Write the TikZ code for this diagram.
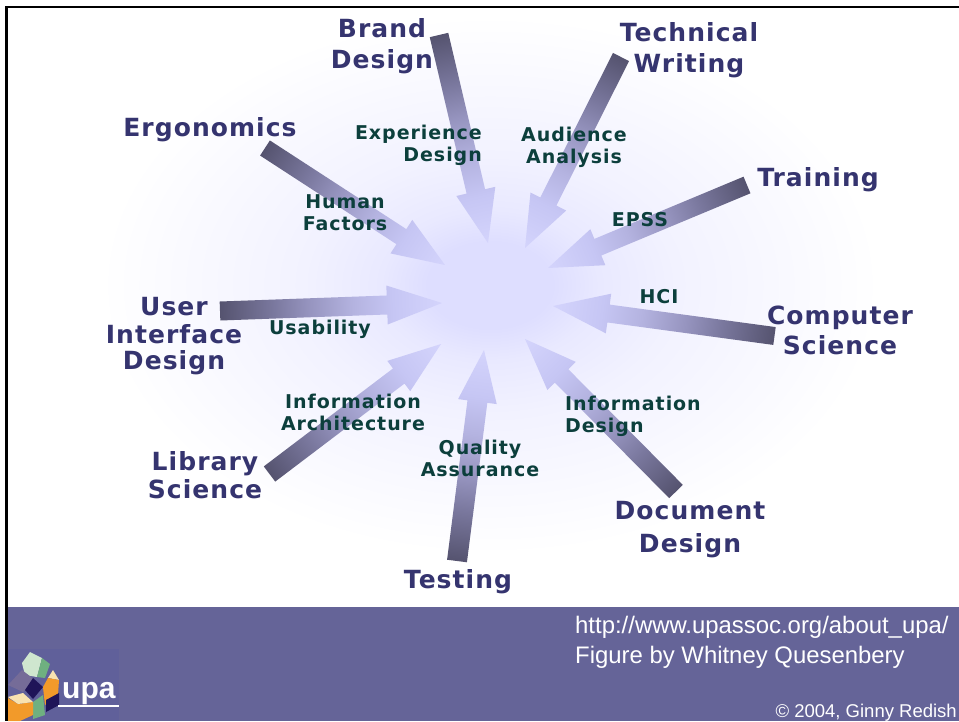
\documentclass[tikz,border=0pt]{standalone}
\usepackage{fontspec}
\setmainfont{Liberation Sans}
\newfontfamily\labfont[LetterSpace=4.2]{DejaVu Sans}
\newfontfamily\smallfont[LetterSpace=5]{DejaVu Sans}
\definecolor{bandc}{HTML}{656498}
\definecolor{logobg}{HTML}{60609A}
\definecolor{bigc}{HTML}{35346F}
\definecolor{smallc}{HTML}{0C3F3C}
\definecolor{arA}{HTML}{55536F}
\definecolor{arB}{HTML}{7A789E}
\definecolor{arC}{HTML}{9694BF}
\definecolor{arD}{HTML}{B4B3E0}
\definecolor{arF}{HTML}{C6C6F4}
\definecolor{arE}{HTML}{D4D4FC}
\definecolor{blA}{HTML}{DEDEFF}
\definecolor{blB}{HTML}{E9E9FF}
\definecolor{blC}{HTML}{F2F2FF}
\definecolor{blD}{HTML}{FAFAFF}
\definecolor{cubeLG}{HTML}{CFE6CF}
\definecolor{cubeG}{HTML}{6FB080}
\definecolor{cubeP}{HTML}{756C98}
\definecolor{cubeN}{HTML}{1F1458}
\definecolor{cubeO}{HTML}{F29A2A}
\definecolor{cubeC}{HTML}{F8E2B0}
\pgfdeclarehorizontalshading{arrowfade}{100bp}{color(0bp)=(arA); color(25bp)=(arA); color(37bp)=(arB); color(45bp)=(arC); color(55bp)=(arD); color(64bp)=(arF); color(75bp)=(arE); color(100bp)=(arE)}
\pgfdeclareradialshading{blobfade}{\pgfpointorigin}{color(0bp)=(blA); color(4bp)=(blA); color(7bp)=(blB); color(12bp)=(blC); color(20bp)=(blD); color(25bp)=(white); color(50bp)=(white)}
\newcommand\gradarrow[5]{%
  \pgfpointanchor{#1}{center}\pgfgetlastxy{\tailx}{\taily}%
  \pgfpointanchor{#2}{center}\pgfgetlastxy{\tipx}{\tipy}%
  \pgfmathsetmacro\arang{atan2(\tipy-\taily,\tipx-\tailx)}%
  \pgfmathsetmacro\arlen{veclen(\tipx-\tailx,\tipy-\taily)}%
  \pgfmathsetmacro\arbase{\arlen-#5}%
  \begin{scope}[transform canvas={shift={(\tailx,\taily)},rotate=\arang}]
    \shade[shading=arrowfade,shading angle=0]
      (0,-#3/2) -- (\arbase,-#3/2) -- (\arbase,-#4/2) -- (\arlen,0)
      -- (\arbase,#4/2) -- (\arbase,#3/2) -- (0,#3/2) -- cycle;
  \end{scope}}
\tikzset{
  biglabel/.style={inner sep=0pt,text=bigc,align=center,font=\labfont\bfseries\fontsize{25}{30}\selectfont},
  smalllabel/.style={inner sep=0pt,text=smallc,align=center,font=\smallfont\bfseries\fontsize{19}{22}\selectfont},
  foot/.style={inner sep=0pt,text=white,anchor=base west,font=\fontsize{23.9}{28}\selectfont},
}
\begin{document}
\begin{tikzpicture}[x=1pt,y=-1pt]
\useasboundingbox (0,0) rectangle (959,721);
\fill[white] (0,0) rectangle (959,721);
% pale glow
\shade[shading=blobfade] (490,285) ellipse [x radius=390,y radius=270];
% frame and band
\fill[black] (5,5.5) rectangle (959,8);
\fill[black] (5,5.5) rectangle (8,721);
\fill[bandc] (7.5,607) rectangle (959,721);
% arrow ends
\coordinate (brandT) at (439,35);     \coordinate (brandP) at (488,243);
\coordinate (techT) at (621,57);      \coordinate (techP) at (525,248);
\coordinate (ergoT) at (265,148);     \coordinate (ergoP) at (445,265);
\coordinate (trainT) at (747,185);    \coordinate (trainP) at (548,268);
\coordinate (compT) at (774.5,336);   \coordinate (compP) at (553,306);
\coordinate (docT) at (676,491.5);    \coordinate (docP) at (525,339);
\coordinate (testT) at (457,561);     \coordinate (testP) at (484,350);
\coordinate (libT) at (269.5,474);    \coordinate (libP) at (441,344);
\coordinate (uiT) at (220,311);       \coordinate (uiP) at (442,303);
\gradarrow{brandT}{brandP}{19}{40}{53}
\gradarrow{techT}{techP}{18}{40}{52}
\gradarrow{ergoT}{ergoP}{18}{40}{52}
\gradarrow{trainT}{trainP}{18}{39}{54}
\gradarrow{compT}{compP}{18}{40}{56}
\gradarrow{docT}{docP}{19}{40}{52}
\gradarrow{testT}{testP}{20}{39}{52}
\gradarrow{libT}{libP}{19}{38}{53}
\gradarrow{uiT}{uiP}{19}{39}{55}
% outer labels
\node[biglabel] (brand) at (382,46.5) {Brand\\[1pt]Design};
\node[biglabel] (tech) at (689,50) {Technical\\[1pt]Writing};
\node[biglabel] (ergo) at (210,130) {Ergonomics};
\node[biglabel] (train) at (818,180) {Training};
\node[biglabel] (comp) at (840,330) {Computer\\Science};
\node[biglabel] (ui) at (174,336.5) {User\\[-2pt]Interface\\[-4pt]Design};
\node[biglabel] (lib) at (205,475) {Library\\[-2pt]Science};
\node[biglabel] (test) at (458,582) {Testing};
\node[biglabel] (doc) at (690,529.5) {Document\\[3pt]Design};
% inner labels
\node[smalllabel,align=right,anchor=east] (exp) at (482,145) {Experience\\Design};
\node[smalllabel] (aud) at (574,147) {Audience\\Analysis};
\node[smalllabel] (hum) at (345,213) {Human\\Factors};
\node[smalllabel] (epss) at (640,220) {EPSS};
\node[smalllabel] (hci) at (659,297) {HCI};
\node[smalllabel] (usa) at (320,329) {Usability};
\node[smalllabel] (iarch) at (353,412) {Information\\Architecture};
\node[smalllabel] (qual) at (480,458) {Quality\\Assurance};
\node[smalllabel,align=left,anchor=west] (ides) at (565,416) {Information\\Design};
% footer text
\node[foot] (url) at (575,633) {http://www.upassoc.org/about\_upa/};
\node[foot] (fig) at (575,663) {Figure by Whitney Quesenbery};
\node[foot,anchor=base east,font=\fontsize{18.5}{20}\selectfont] (copy) at (957,717) {© 2004, Ginny Redish};
% logo
\fill[logobg] (7.5,649) rectangle (119,721);
\fill[cubeLG] (22,663) -- (30,652) -- (42,658) -- (37,677) -- (25,675) -- cycle;
\fill[cubeG] (37,677) -- (42,658) -- (50,664) -- (45,678) -- cycle;
\fill[cubeP] (8,685) -- (22,670) -- (35,680) -- (23,692) -- cycle;
\fill[cubeC] (48,678) -- (53,670) -- (59,680) -- cycle;
\fill[cubeO] (43,687) -- (48,678) -- (59,680) -- (58,695) -- (45,705) -- cycle;
\fill[cubeN] (25,690) -- (33,678) -- (43,687) -- (33,699) -- cycle;
\fill[cubeG] (33,702) -- (43,695) -- (45,715) -- (33,719) -- cycle;
\fill[cubeN] (46,700) -- (59,693) -- (59,705) -- (46,712) -- cycle;
\fill[cubeO] (8,698) -- (18,704) -- (33,702) -- (33,715) -- (20,721) -- (8,721) -- cycle;
\fill[cubeC] (8,697) -- (23,693) -- (33,702) -- (18,704) -- cycle;
\node[inner sep=0pt,anchor=base west,text=white,font=\bfseries\fontsize{30}{33}\selectfont] (upa) at (62,698) {upa};
\coordinate (ulL) at (58,706); \coordinate (ulR) at (118.5,706);
\draw[white,line width=1.6pt] (ulL) -- (ulR);
\end{tikzpicture}
\end{document}
